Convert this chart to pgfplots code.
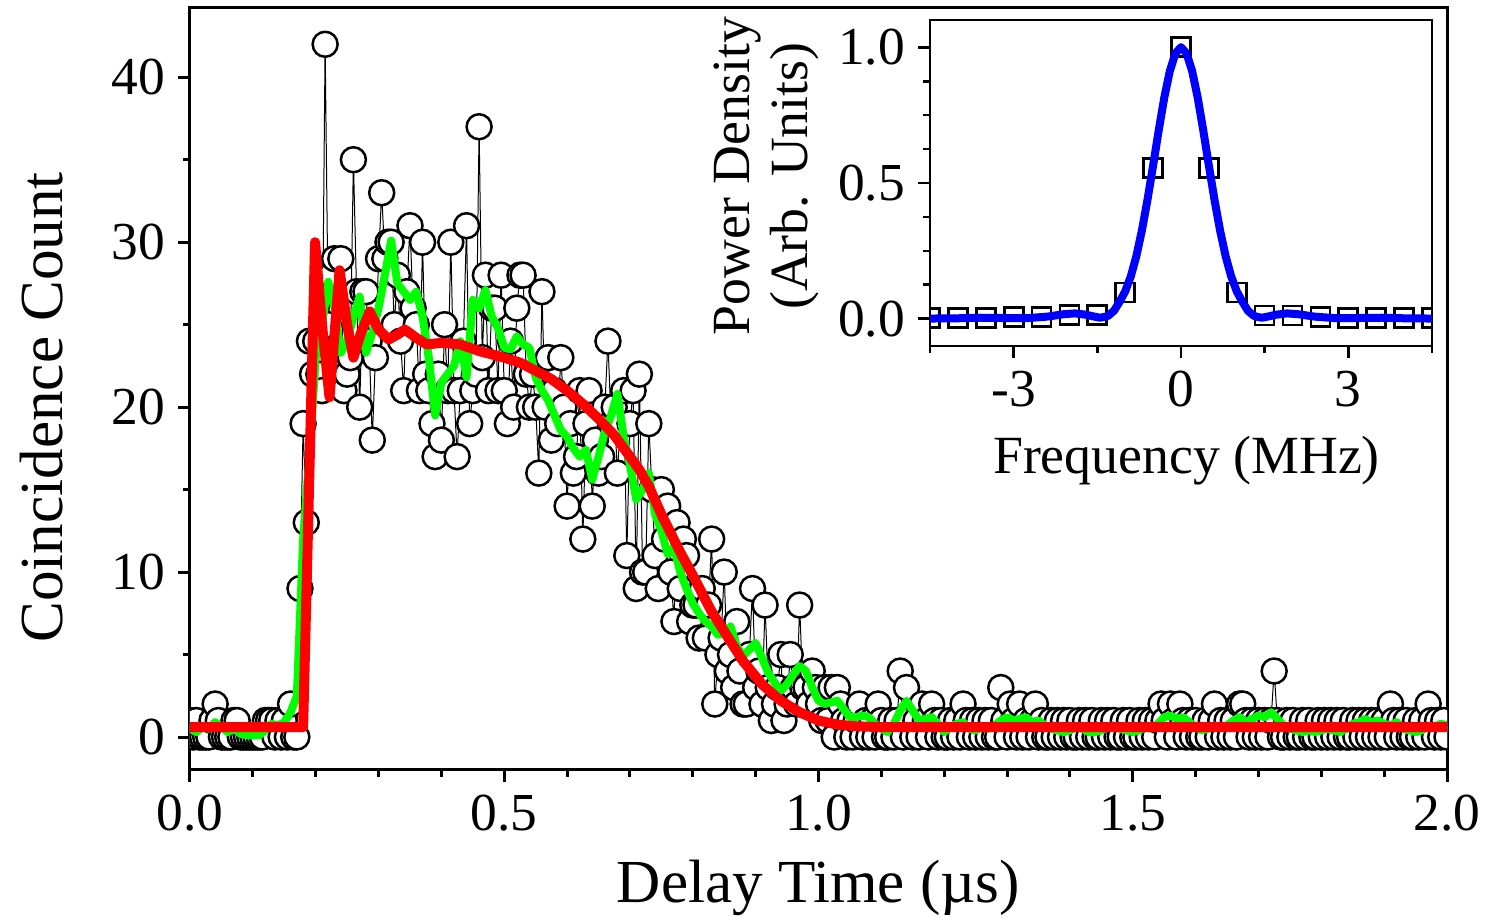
\documentclass[border=0pt]{standalone}
\usepackage{pgfplots}
\pgfplotsset{compat=1.18}
\usepackage{fontspec}
\setmainfont{Liberation Serif}
\definecolor{fitred}{RGB}{255,0,0}
\definecolor{smgreen}{RGB}{0,255,0}
\definecolor{psdblue}{RGB}{0,0,255}
\begin{document}
\begin{tikzpicture}
\path[use as bounding box] (-19mm,-15.1mm) rectangle (129.9mm,77mm);
% main panel
\begin{axis}[
    at={(0,0)}, anchor=south west,
    width=125.7mm, height=76.2mm, scale only axis,
    xmin=0, xmax=2, ymin=-2, ymax=44.2,
    xtick={0,0.5,1,1.5,2}, minor x tick num=4,
    ytick={0,10,20,30,40}, minor y tick num=1,
    tick align=outside, xtick pos=left, ytick pos=left,
    major tick length=1.2mm, minor tick length=0.7mm,
    tick style={line width=0.3mm, black},
    line width=0.3mm,
    /pgf/number format/assume math mode=true,
    tick label style={font=\fontsize{15.2}{18}\selectfont},
    xticklabel style={/pgf/number format/.cd, fixed, fixed zerofill, precision=1},
    label style={font=\fontsize{17.4}{21}\selectfont},
    xlabel={Delay Time (µs)},
    ylabel={Coincidence Count},
    xlabel style={at={(axis description cs:0.5,-0.1745)}, anchor=base},
    ylabel style={at={(axis description cs:-0.1177,0.476)}, anchor=center},
    clip marker paths=true,
]
% counts
\addplot[black, line width=0.1mm, mark=*, mark size=1.25mm,
  mark options={fill=white, draw=black, line width=0.25mm, solid}] coordinates {
(0.000,1)(0.005,0)(0.010,1)(0.015,0)(0.020,0)(0.025,0)(0.030,0)(0.035,1)(0.040,2)(0.045,1)
(0.050,0)(0.055,0)(0.060,0)(0.065,0)(0.070,1)(0.075,1)(0.080,0)(0.085,0)(0.090,0)(0.095,0)
(0.100,0)(0.105,0)(0.110,0)(0.115,0)(0.120,1)(0.125,1)(0.130,1)(0.135,0)(0.140,1)(0.145,0)
(0.150,1)(0.155,0)(0.160,2)(0.165,0)(0.170,0)(0.175,9)(0.180,19)(0.185,13)(0.190,24)(0.195,22)
(0.200,24)(0.205,22)(0.210,21)(0.215,42)(0.220,25)(0.225,28)(0.230,29)(0.235,22)(0.240,29)(0.245,21)
(0.250,22)(0.255,23)(0.260,35)(0.265,27)(0.270,20)(0.275,27)(0.280,27)(0.285,24)(0.290,18)(0.295,23)
(0.300,29)(0.305,33)(0.310,29)(0.315,30)(0.320,30)(0.325,25)(0.330,28)(0.335,24)(0.340,21)(0.345,27)
(0.350,31)(0.355,26)(0.360,25)(0.365,21)(0.370,30)(0.375,22)(0.380,21)(0.385,19)(0.390,17)(0.395,22)
(0.400,18)(0.405,25)(0.410,21)(0.415,30)(0.420,21)(0.425,17)(0.430,21)(0.435,24)(0.440,31)(0.445,19)
(0.450,21)(0.455,22)(0.460,37)(0.465,23)(0.470,28)(0.475,21)(0.480,26)(0.485,26)(0.490,21)(0.495,28)
(0.500,21)(0.505,19)(0.510,24)(0.515,20)(0.520,26)(0.525,28)(0.530,28)(0.535,22)(0.540,20)(0.545,22)
(0.550,20)(0.555,16)(0.560,27)(0.565,20)(0.570,23)(0.575,18)(0.580,21)(0.585,19)(0.590,23)(0.595,20)
(0.600,14)(0.605,19)(0.610,16)(0.615,17)(0.620,21)(0.625,12)(0.630,19)(0.635,21)(0.640,14)(0.645,18)
(0.650,16)(0.655,17)(0.660,20)(0.665,24)(0.670,19)(0.675,20)(0.680,16)(0.685,19)(0.690,21)(0.695,11)
(0.700,19)(0.705,21)(0.710,9)(0.715,22)(0.720,10)(0.725,10)(0.730,19)(0.735,15)(0.740,11)(0.745,9)
(0.750,15)(0.755,12)(0.760,14)(0.765,10)(0.770,7)(0.775,13)(0.780,9)(0.785,12)(0.790,11)(0.795,7)
(0.800,8)(0.805,8)(0.810,6)(0.815,9)(0.820,6)(0.825,8)(0.830,12)(0.835,2)(0.840,5)(0.845,6)
(0.850,10)(0.855,4)(0.860,5)(0.865,3)(0.870,7)(0.875,4)(0.880,2)(0.885,2)(0.890,5)(0.895,9)
(0.900,3)(0.905,4)(0.910,2)(0.915,8)(0.920,3)(0.925,1)(0.930,2)(0.935,3)(0.940,5)(0.945,1)
(0.950,2)(0.955,5)(0.960,3)(0.965,2)(0.970,8)(0.975,3)(0.980,3)(0.985,2)(0.990,4)(0.995,3)
(1.000,2)(1.005,1)(1.010,3)(1.015,1)(1.020,3)(1.025,0)(1.030,3)(1.035,2)(1.040,1)(1.045,0)
(1.050,1)(1.055,0)(1.060,1)(1.065,2)(1.070,0)(1.075,1)(1.080,0)(1.085,1)(1.090,0)(1.095,2)
(1.100,1)(1.105,0)(1.110,0)(1.115,1)(1.120,0)(1.125,1)(1.130,4)(1.135,0)(1.140,3)(1.145,1)
(1.150,0)(1.155,1)(1.160,0)(1.165,2)(1.170,1)(1.175,0)(1.180,2)(1.185,1)(1.190,0)(1.195,1)
(1.200,0)(1.205,0)(1.210,1)(1.215,0)(1.220,1)(1.225,0)(1.230,2)(1.235,1)(1.240,0)(1.245,1)
(1.250,0)(1.255,1)(1.260,0)(1.265,1)(1.270,0)(1.275,1)(1.280,0)(1.285,0)(1.290,3)(1.295,1)
(1.300,0)(1.305,2)(1.310,1)(1.315,0)(1.320,2)(1.325,0)(1.330,1)(1.335,0)(1.340,1)(1.345,2)
(1.350,0)(1.355,1)(1.360,0)(1.365,0)(1.370,1)(1.375,0)(1.380,1)(1.385,0)(1.390,1)(1.395,0)
(1.400,1)(1.405,0)(1.410,0)(1.415,1)(1.420,0)(1.425,1)(1.430,0)(1.435,1)(1.440,0)(1.445,0)
(1.450,1)(1.455,0)(1.460,1)(1.465,0)(1.470,1)(1.475,0)(1.480,0)(1.485,1)(1.490,0)(1.495,1)
(1.500,0)(1.505,0)(1.510,1)(1.515,0)(1.520,1)(1.525,0)(1.530,1)(1.535,0)(1.540,1)(1.545,2)
(1.550,1)(1.555,0)(1.560,2)(1.565,1)(1.570,0)(1.575,2)(1.580,1)(1.585,0)(1.590,1)(1.595,0)
(1.600,1)(1.605,0)(1.610,0)(1.615,1)(1.620,0)(1.625,1)(1.630,2)(1.635,0)(1.640,1)(1.645,0)
(1.650,1)(1.655,0)(1.660,1)(1.665,0)(1.670,2)(1.675,2)(1.680,1)(1.685,0)(1.690,1)(1.695,0)
(1.700,1)(1.705,0)(1.710,1)(1.715,0)(1.720,1)(1.725,4)(1.730,1)(1.735,0)(1.740,0)(1.745,1)
(1.750,0)(1.755,1)(1.760,0)(1.765,0)(1.770,1)(1.775,0)(1.780,1)(1.785,0)(1.790,0)(1.795,1)
(1.800,0)(1.805,1)(1.810,0)(1.815,1)(1.820,0)(1.825,1)(1.830,0)(1.835,1)(1.840,0)(1.845,0)
(1.850,1)(1.855,0)(1.860,1)(1.865,0)(1.870,1)(1.875,0)(1.880,1)(1.885,0)(1.890,1)(1.895,0)
(1.900,1)(1.905,0)(1.910,2)(1.915,1)(1.920,0)(1.925,1)(1.930,0)(1.935,1)(1.940,0)(1.945,0)
(1.950,1)(1.955,0)(1.960,1)(1.965,0)(1.970,2)(1.975,1)(1.980,0)(1.985,1)(1.990,0)(1.995,1)
(2.000,0)
};
% smoothed
\addplot[smgreen, line width=0.8mm, line join=round, no marks] coordinates {
(0.00,0.5)(0.01,0.3)(0.02,0.6)(0.03,0.5)(0.04,0.9)(0.05,0.6)(0.06,0.3)(0.07,0.5)(0.08,0.2)(0.09,0.1)
(0.10,0.1)(0.11,0.1)(0.12,0.4)(0.13,0.8)(0.14,0.7)(0.15,0.9)(0.16,1.5)(0.17,2.5)(0.18,12)(0.19,17)
(0.20,23)(0.21,25)(0.22,27.6)(0.23,26)(0.24,23.3)(0.25,24)(0.26,25.5)(0.27,26.7)(0.28,23.3)(0.29,24.5)
(0.30,26)(0.31,28)(0.32,30.1)(0.33,27.5)(0.34,27)(0.35,26.5)(0.36,27)(0.37,25.5)(0.38,23)(0.39,19.5)
(0.40,21.5)(0.41,22)(0.42,22.5)(0.43,24)(0.44,21.8)(0.45,26.5)(0.46,26)(0.47,27.1)(0.48,25.5)(0.49,24.8)
(0.50,23.6)(0.51,23.5)(0.52,24.3)(0.53,23.8)(0.54,23.6)(0.55,21.8)(0.56,21)(0.57,20.4)(0.58,19.5)(0.59,18.6)
(0.60,18.2)(0.61,17.5)(0.62,17)(0.63,17.4)(0.64,15.6)(0.65,17)(0.66,18.5)(0.67,19.5)(0.68,20.8)(0.69,18.2)
(0.70,16.5)(0.71,14.4)(0.72,15)(0.73,16)(0.74,13.5)(0.75,12.5)(0.76,11.1)(0.77,11.5)(0.78,10)(0.79,9)
(0.80,8.1)(0.81,7.5)(0.82,7)(0.83,6.7)(0.84,6.2)(0.85,6.3)(0.86,6.7)(0.87,5.5)(0.88,4.9)(0.89,5.3)
(0.90,5.7)(0.91,4.8)(0.92,3.9)(0.93,3.3)(0.94,2.8)(0.95,3.2)(0.96,3.8)(0.97,4.3)(0.98,4.0)(0.99,3.0)
(1.00,2.2)(1.01,2.0)(1.02,2.1)(1.03,2.2)(1.04,1.7)(1.05,1.2)(1.06,1.2)(1.07,1.3)(1.08,1.2)(1.09,0.8)
(1.10,0.5)(1.11,0.3)(1.12,0.8)(1.13,1.6)(1.14,2.2)(1.15,1.6)(1.16,1.0)(1.17,1.1)(1.18,1.2)(1.19,0.8)
(1.20,0.3)(1.21,0.6)(1.22,0.8)(1.23,0.9)(1.24,0.5)(1.25,0.4)(1.26,0.6)(1.27,0.5)(1.28,0.7)(1.29,1.0)
(1.30,1.2)(1.31,1.0)(1.32,1.1)(1.33,1.2)(1.34,0.9)(1.35,1.0)(1.36,0.7)(1.37,0.5)(1.38,0.4)(1.39,0.3)
(1.40,0.4)(1.41,0.6)(1.42,0.5)(1.43,0.3)(1.44,0.3)(1.45,0.4)(1.46,0.6)(1.47,0.7)(1.48,0.5)(1.49,0.4)
(1.50,0.3)(1.51,0.4)(1.52,0.6)(1.53,0.5)(1.54,0.8)(1.55,1.2)(1.56,1.3)(1.57,1.1)(1.58,1.2)(1.59,0.9)
(1.60,0.6)(1.61,0.4)(1.62,0.5)(1.63,0.7)(1.64,0.6)(1.65,0.7)(1.66,1.0)(1.67,1.2)(1.68,0.9)(1.69,1.1)
(1.70,1.3)(1.71,1.2)(1.72,1.5)(1.73,1.1)(1.74,0.7)(1.75,0.5)(1.76,0.4)(1.77,0.3)(1.78,0.4)(1.79,0.3)
(1.80,0.4)(1.81,0.5)(1.82,0.4)(1.83,0.3)(1.84,0.5)(1.85,0.8)(1.86,0.9)(1.87,1.1)(1.88,0.9)(1.89,1.0)
(1.90,0.8)(1.91,0.7)(1.92,0.9)(1.93,0.5)(1.94,0.4)(1.95,0.3)(1.96,0.4)(1.97,0.7)(1.98,0.6)(1.99,0.8)
(2.00,0.7)
};
% fit
\addplot[fitred, line width=1.0mm, line join=round, no marks] coordinates {
(0,0.6)(0.180,0.6)(0.199,30)(0.210,25)(0.222,20.6)(0.238,28.3)(0.250,25)(0.260,23)(0.272,24.5)
(0.286,25.8)(0.300,24.7)(0.316,24.1)(0.330,24.4)(0.342,24.7)(0.360,24.2)(0.377,23.8)(0.400,23.9)
(0.430,23.8)(0.460,23.4)(0.500,23.0)(0.525,22.7)(0.550,22.2)(0.575,21.7)(0.600,21.0)(0.625,20.2)
(0.650,19.3)(0.675,18.3)(0.700,17.0)(0.715,16.2)(0.730,15.2)(0.750,13.5)(0.780,11.2)(0.800,9.8)
(0.830,7.6)(0.860,5.8)(0.880,4.6)(0.910,3.2)(0.940,2.2)(0.970,1.5)(1.000,1.0)(1.030,0.75)
(1.060,0.65)(1.100,0.6)(2.000,0.6)
};
\end{axis}
% inset
\begin{axis}[
    at={(74mm,42.4mm)}, anchor=south west,
    width=50.2mm, height=32.6mm, scale only axis,
    axis background/.style={fill=white},
    xmin=-4.5, xmax=4.5, ymin=-0.1, ymax=1.1,
    xtick={-3,0,3}, xticklabels={-3,0,3},
    minor xtick={-4.5,-1.5,1.5,4.5},
    ytick={0,0.5,1}, yticklabels={0.0,0.5,1.0}, minor y tick num=3,
    tick align=outside, xtick pos=left, ytick pos=left,
    major tick length=1.2mm, minor tick length=0.7mm,
    tick style={line width=0.28mm, black},
    line width=0.28mm,
    tick label style={font=\fontsize{15.2}{18}\selectfont},
    label style={font=\fontsize{15.3}{16.5}\selectfont},
    xlabel={Frequency (MHz)},
    ylabel={Power Density\\(Arb. Units)},
    xlabel style={at={(axis description cs:0.511,-0.39)}, anchor=base},
    ylabel style={align=center, at={(axis description cs:-0.325,0.521)}, anchor=center},
    clip marker paths=true,
]
\addplot[black, only marks, mark=square, mark size=0.95mm, mark options={line width=0.27mm}] coordinates {
(-4.5,0.004)(-4.0,0.004)(-3.5,0.004)(-3.0,0.006)(-2.5,0.006)(-2.0,0.015)(-1.5,0.015)(-1.0,0.097)
(-0.5,0.555)(0,1.0)(0.5,0.555)(1.0,0.097)(1.5,0.012)(2.0,0.012)(2.5,0.006)(3.0,0.004)(3.5,0.004)
(4.0,0.004)(4.5,0.004)
};
\addplot[psdblue, line width=0.8mm, line join=round, no marks] coordinates {
(-4.5,0.001)(-4.0,0.002)(-3.6,0.004)(-3.2,0.003)(-2.8,0.002)(-2.4,0.008)(-2.1,0.017)(-1.9,0.02)
(-1.7,0.015)(-1.55,0.008)(-1.45,0.004)(-1.35,0.008)(-1.3,0.012)(-1.2,0.03)(-1.1,0.063)(-1.0,0.101)
(-0.9,0.156)(-0.8,0.231)(-0.7,0.326)(-0.6,0.439)(-0.5,0.564)(-0.4,0.693)(-0.3,0.814)(-0.2,0.912)
(-0.1,0.977)(0,1.0)(0.1,0.977)(0.2,0.912)(0.3,0.814)(0.4,0.693)(0.5,0.564)(0.6,0.439)(0.7,0.326)
(0.8,0.231)(0.9,0.156)(1.0,0.101)(1.1,0.063)(1.2,0.03)(1.3,0.012)(1.35,0.008)(1.45,0.004)(1.55,0.008)
(1.7,0.015)(1.9,0.02)(2.1,0.017)(2.4,0.008)(2.8,0.002)(3.2,0.003)(3.6,0.004)(4.0,0.002)(4.5,0.001)
};
\end{axis}
\end{tikzpicture}
\end{document}
